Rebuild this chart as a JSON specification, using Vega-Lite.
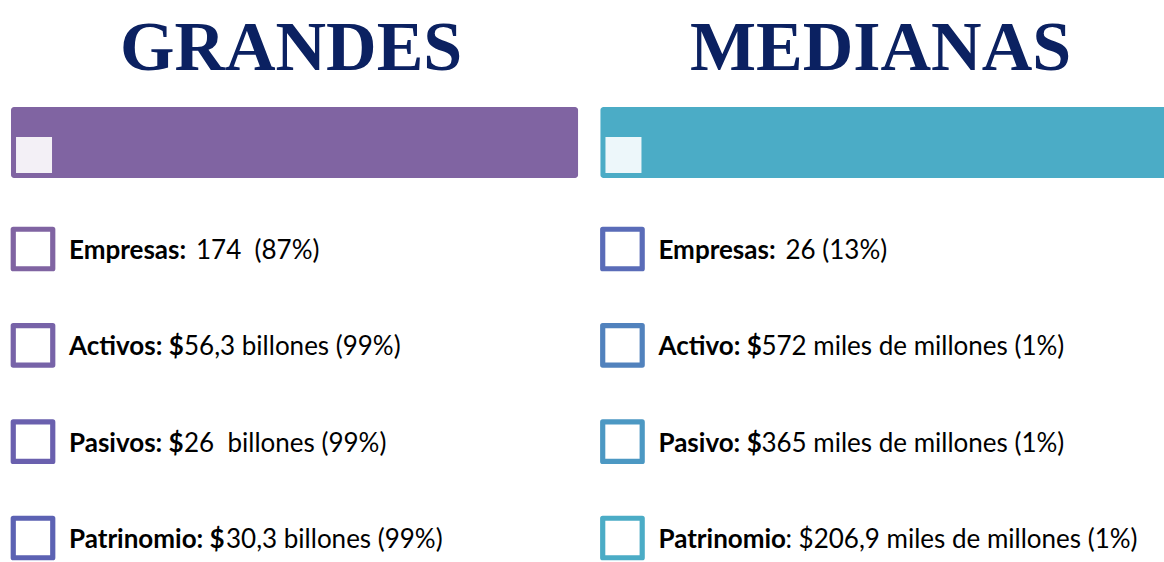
{
  "$schema": "https://vega.github.io/schema/vega-lite/v6.json",
  "width": 1164,
  "height": 562,
  "autosize": {"type": "fit", "contains": "padding"},
  "padding": 0,
  "background": "white",
  "config": {"view": {"stroke": null}},
  "datasets": {
    "grupos": [{"grupo": "GRANDES"}, {"grupo": "MEDIANAS"}],
    "items": [
      {"grupo": "GRANDES", "concepto": "Empresas", "etiqueta": "Empresas:", "valor": "174\u00a0 (87%)"},
      {"grupo": "GRANDES", "concepto": "Activos", "etiqueta": "Activos: $", "valor": "56,3 billones (99%)"},
      {"grupo": "GRANDES", "concepto": "Pasivos", "etiqueta": "Pasivos: $", "valor": "26\u00a0 billones (99%)"},
      {"grupo": "GRANDES", "concepto": "Patrimonio", "etiqueta": "Patrinomio: $", "valor": "30,3 billones (99%)"},
      {"grupo": "MEDIANAS", "concepto": "Empresas", "etiqueta": "Empresas:", "valor": "26 (13%)"},
      {"grupo": "MEDIANAS", "concepto": "Activos", "etiqueta": "Activo: $", "valor": "572 miles de millones (1%)"},
      {"grupo": "MEDIANAS", "concepto": "Pasivos", "etiqueta": "Pasivo: $", "valor": "365 miles de millones (1%)"},
      {"grupo": "MEDIANAS", "concepto": "Patrimonio", "etiqueta": "Patrinomio", "valor": ": $206,9 miles de millones (1%)"}
    ]
  },
  "layer": [
    {
      "data": {"name": "grupos"},
      "layer": [
        {
          "mark": {"type": "rect", "cornerRadius": 3},
          "encoding": {
            "x": {"field": "grupo", "type": "nominal", "axis": null, "scale": {"type": "band", "domain": ["GRANDES", "MEDIANAS"], "range": [11, 1167.5], "paddingInner": 0.038, "paddingOuter": 0}},
            "y": {"datum": "header", "type": "nominal", "axis": null, "scale": {"type": "band", "domain": ["title", "header"], "range": [6.5, 178], "paddingInner": 0.2935, "paddingOuter": 0}},
            "color": {"field": "grupo", "type": "nominal", "legend": null, "scale": {"domain": ["GRANDES", "MEDIANAS"], "range": ["#8064A2", "#4BACC6"]}}
          }
        },
        {
          "mark": {"type": "point", "shape": "square", "filled": true, "size": 1296, "color": "white", "opacity": 0.9},
          "encoding": {
            "x": {"field": "grupo", "type": "nominal", "axis": null, "bandPosition": 0.0406},
            "y": {"datum": "header", "type": "nominal", "axis": null, "bandPosition": 0.676}
          }
        },
        {
          "mark": {"type": "text", "font": "Liberation Serif", "fontWeight": "bold", "fontSize": 70, "color": "#0B2161", "align": "center", "baseline": "alphabetic"},
          "encoding": {
            "x": {"field": "grupo", "type": "nominal", "axis": null, "bandPosition": 0.494},
            "y": {"datum": "title", "type": "nominal", "axis": null, "bandPosition": 0.9},
            "text": {"field": "grupo", "type": "nominal"}
          }
        }
      ]
    },
    {
      "data": {"name": "items"},
      "transform": [{"calculate": "datum.grupo + '|' + datum.concepto", "as": "clave"}],
      "encoding": {
        "y": {"field": "concepto", "type": "nominal", "axis": null, "scale": {"type": "point", "domain": ["Empresas", "Activos", "Pasivos", "Patrimonio"], "range": [249, 538], "padding": 0}}
      },
      "layer": [
        {
          "mark": {"type": "point", "shape": "square", "filled": false, "size": 1560, "strokeWidth": 5.2, "opacity": 1, "strokeJoin": "round"},
          "encoding": {
            "x": {"field": "grupo", "type": "nominal", "axis": null, "bandPosition": 0.0388},
            "color": {"field": "clave", "type": "nominal", "legend": null, "scale": {
              "domain": ["GRANDES|Empresas", "GRANDES|Activos", "GRANDES|Pasivos", "GRANDES|Patrimonio", "MEDIANAS|Empresas", "MEDIANAS|Activos", "MEDIANAS|Pasivos", "MEDIANAS|Patrimonio"],
              "range": ["#8064A2", "#7763A8", "#6A60AE", "#5C62B3", "#5A6CB8", "#5182BD", "#4C98C3", "#4BACC6"]}}
          }
        },
        {
          "mark": {"type": "text", "font": "Lato", "fontWeight": "bold", "fontSize": 26, "align": "left", "baseline": "alphabetic", "dy": 10, "color": "#000000"},
          "encoding": {
            "x": {"field": "grupo", "type": "nominal", "axis": null, "bandPosition": 0.1023},
            "text": {"field": "etiqueta", "type": "nominal"}
          }
        },
        {
          "transform": [{"filter": {"field": "etiqueta", "oneOf": ["Empresas:"]}}],
          "mark": {"type": "text", "font": "Lato", "fontSize": 26, "align": "left", "baseline": "alphabetic", "dy": 10, "dx": 127, "color": "#000000"},
          "encoding": {
            "x": {"field": "grupo", "type": "nominal", "axis": null, "bandPosition": 0.1023},
            "text": {"field": "valor", "type": "nominal"}
          }
        },
        {
          "transform": [{"filter": {"field": "etiqueta", "oneOf": ["Activos: $", "Pasivos: $"]}}],
          "mark": {"type": "text", "font": "Lato", "fontSize": 26, "align": "left", "baseline": "alphabetic", "dy": 10, "dx": 115, "color": "#000000"},
          "encoding": {
            "x": {"field": "grupo", "type": "nominal", "axis": null, "bandPosition": 0.1023},
            "text": {"field": "valor", "type": "nominal"}
          }
        },
        {
          "transform": [{"filter": {"field": "etiqueta", "oneOf": ["Activo: $", "Pasivo: $"]}}],
          "mark": {"type": "text", "font": "Lato", "fontSize": 26, "align": "left", "baseline": "alphabetic", "dy": 10, "dx": 103, "color": "#000000"},
          "encoding": {
            "x": {"field": "grupo", "type": "nominal", "axis": null, "bandPosition": 0.1023},
            "text": {"field": "valor", "type": "nominal"}
          }
        },
        {
          "transform": [{"filter": {"field": "etiqueta", "oneOf": ["Patrinomio: $"]}}],
          "mark": {"type": "text", "font": "Lato", "fontSize": 26, "align": "left", "baseline": "alphabetic", "dy": 10, "dx": 157, "color": "#000000"},
          "encoding": {
            "x": {"field": "grupo", "type": "nominal", "axis": null, "bandPosition": 0.1023},
            "text": {"field": "valor", "type": "nominal"}
          }
        },
        {
          "transform": [{"filter": {"field": "etiqueta", "oneOf": ["Patrinomio"]}}],
          "mark": {"type": "text", "font": "Lato", "fontSize": 26, "align": "left", "baseline": "alphabetic", "dy": 10, "dx": 127, "color": "#000000"},
          "encoding": {
            "x": {"field": "grupo", "type": "nominal", "axis": null, "bandPosition": 0.1023},
            "text": {"field": "valor", "type": "nominal"}
          }
        }
      ]
    }
  ],
  "resolve": {"scale": {"y": "independent", "color": "independent"}}
}
